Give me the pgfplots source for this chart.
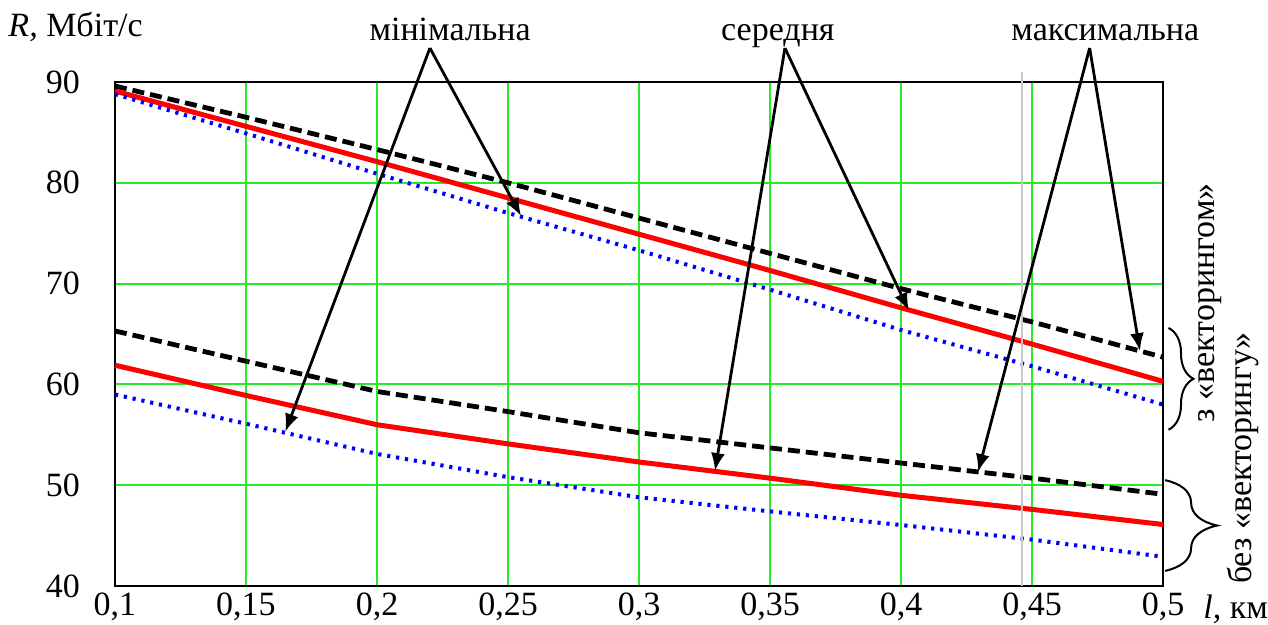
\documentclass[border=0pt]{standalone}
\usepackage{fontspec}
\setmainfont{Liberation Serif}
\usepackage{pgfplots}
\pgfplotsset{compat=1.18}
\usetikzlibrary{arrows.meta,decorations.pathreplacing}
\definecolor{grd}{RGB}{40,235,40}
\definecolor{gry}{RGB}{200,200,200}
\begin{document}
\begin{tikzpicture}[font=\rmfamily\fontsize{17}{20}\selectfont]
\useasboundingbox (-57.5pt,-19.5pt) rectangle (576.5pt,293pt);
\begin{axis}[at={(0,0)},anchor=south west,
  scale only axis, width=524pt, height=252pt,
  xmin=0.1, xmax=0.5, ymin=40, ymax=90,
  clip=false,
  xtick={0.1,0.15,0.2,0.25,0.3,0.35,0.4,0.45,0.5},
  xticklabels={{0,1},{0,15},{0,2},{0,25},{0,3},{0,35},{0,4},{0,45},{0,5}},
  ytick={40,50,60,70,80,90},
  yticklabels={40,50,60,70,80,90},
  grid=major,
  major grid style={grd, line width=1pt},
  axis line style={black, line width=0.8pt},
  major tick length=0pt,
  tick label style={font=\rmfamily\fontsize{17}{20}\selectfont},
  /pgf/number format/assume math mode=true,
  yticklabel style={xshift=-14pt},
]
% with vectoring
\addplot[black, line width=2.4pt, dash pattern=on 6pt off 3pt] coordinates {
(0.1,89.6)(0.15,86.5)(0.2,83.3)(0.25,80.0)(0.3,76.5)(0.35,73.0)(0.4,69.5)(0.45,66.2)(0.5,62.7)};
\addplot[red, line width=2.5pt] coordinates {
(0.1,89.1)(0.15,85.6)(0.2,82.1)(0.25,78.5)(0.3,74.9)(0.35,71.3)(0.4,67.6)(0.45,64.0)(0.5,60.3)};
\addplot[blue, line width=2pt, dash pattern=on 1.6pt off 2.9pt] coordinates {
(0.1,88.8)(0.15,84.9)(0.2,80.9)(0.25,77.0)(0.3,73.3)(0.35,69.4)(0.4,65.4)(0.45,61.8)(0.5,58.0)};
% without vectoring
\addplot[black, line width=2.4pt, dash pattern=on 6pt off 3pt] coordinates {
(0.1,65.3)(0.15,62.3)(0.2,59.3)(0.25,57.3)(0.3,55.2)(0.35,53.7)(0.4,52.2)(0.45,50.7)(0.5,49.1)};
\addplot[red, line width=2.5pt] coordinates {
(0.1,61.9)(0.15,58.9)(0.2,56.0)(0.25,54.1)(0.3,52.3)(0.35,50.7)(0.4,49.0)(0.45,47.6)(0.5,46.1)};
\addplot[blue, line width=2pt, dash pattern=on 1.6pt off 2.9pt] coordinates {
(0.1,59.0)(0.15,56.1)(0.2,53.1)(0.25,50.8)(0.3,48.8)(0.35,47.4)(0.4,46.05)(0.45,44.6)(0.5,42.9)};

\draw[gry, line width=1pt] (axis cs:0.4462,40) -- (axis cs:0.4462,91);

\node[anchor=base west, inner sep=0pt] at (axis cs:0.0592,94.56) {\textit{R,} Мбіт/с};
\node[anchor=base west, inner sep=0pt] at (axis cs:0.5153,36.8) {\textit{l,} км};

\node[anchor=base, inner sep=0pt] at (axis cs:0.2279,94.07) {мінімальна};
\node[anchor=base, inner sep=0pt] at (axis cs:0.353,94.07) {середня};
\node[anchor=base, inner sep=0pt] at (axis cs:0.478,94.07) {максимальна};

\draw[-{Latex[length=9pt,width=7pt]}, line width=1.4pt] (axis cs:0.2202,93.37) -- (axis cs:0.255,76.7);
\draw[-{Latex[length=9pt,width=7pt]}, line width=1.4pt] (axis cs:0.2202,93.37) -- (axis cs:0.165,55.3);
\draw[-{Latex[length=9pt,width=7pt]}, line width=1.4pt] (axis cs:0.3557,93.37) -- (axis cs:0.403,67.3);
\draw[-{Latex[length=9pt,width=7pt]}, line width=1.4pt] (axis cs:0.3557,93.37) -- (axis cs:0.329,51.4);
\draw[-{Latex[length=9pt,width=7pt]}, line width=1.4pt] (axis cs:0.472,93.37) -- (axis cs:0.4912,63.3);
\draw[-{Latex[length=9pt,width=7pt]}, line width=1.4pt] (axis cs:0.472,93.37) -- (axis cs:0.4294,51.3);

\draw[decorate, decoration={brace, amplitude=12.5pt}, line width=1pt] (axis cs:0.5021,65.6) -- (axis cs:0.5021,55.5);
\draw[decorate, decoration={brace, amplitude=26pt}, line width=1pt] (axis cs:0.5008,50.5) -- (axis cs:0.5008,41.5);

\node[rotate=90, inner sep=0pt] at (axis cs:0.518,68.1) {з «векторингом»};
\node[rotate=90, inner sep=0pt] at (axis cs:0.5305,52.7) {без «векторингу»};
\end{axis}
\end{tikzpicture}
\end{document}
